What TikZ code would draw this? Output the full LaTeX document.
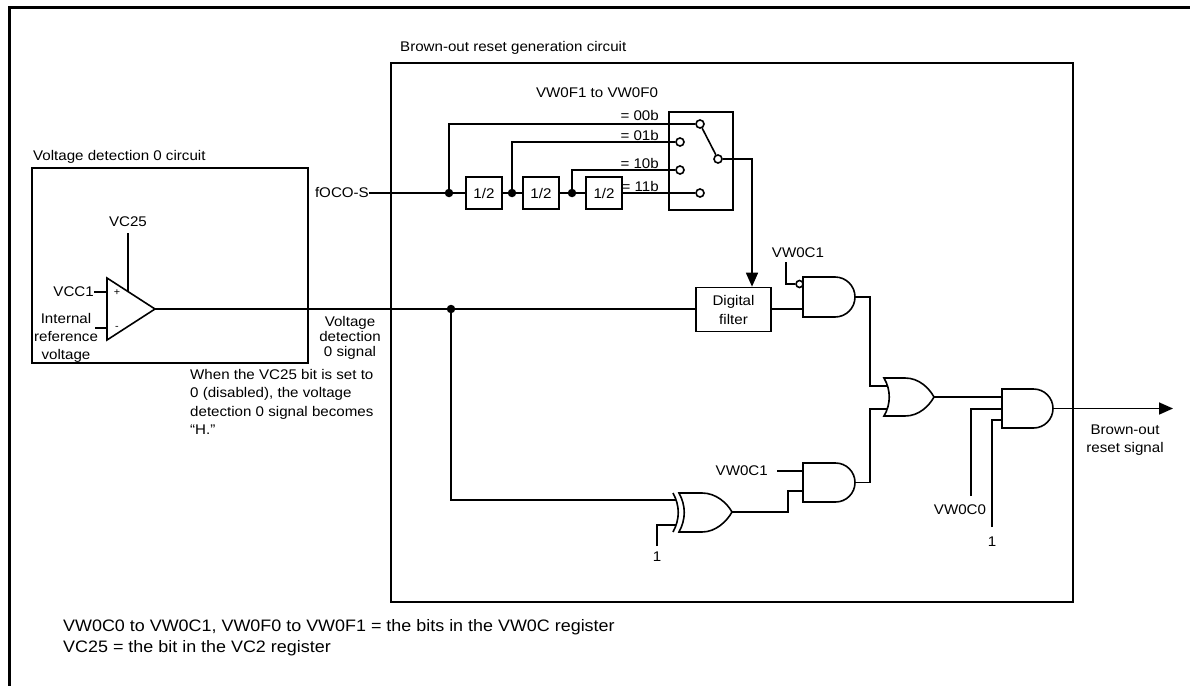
\documentclass[tikz,border=0pt]{standalone}
\usepackage{fontspec}
\setmainfont{Liberation Sans}[FakeStretch=1.08]
\usetikzlibrary{arrows.meta}
\newcommand\lblfont{\fontsize{14}{16}\selectfont}
\tikzset{
  wire/.style={line width=1.6pt},
  frame/.style={line width=1.6pt},
  box/.style={draw, line width=1.6pt, inner sep=0pt, font=\lblfont},
  lbl/.style={font=\lblfont, inner sep=0pt},
  dot/.style={circle, fill, inner sep=0pt, minimum size=8.5pt},
  contact/.style={circle, draw, fill=white, line width=1.6pt, inner sep=0pt, minimum size=8pt},
  gate/.style={line width=1.6pt, fill=white},
  sig/.style={-{Triangle[length=14pt,width=12pt]}},
}
\begin{document}
\begin{tikzpicture}[x=1pt,y=1pt]
\useasboundingbox (0,0) rectangle (1190,-685);
\fill[white] (0,0) rectangle (1190,-685);
\draw[line width=3pt] (1190,-8) -- (9,-8) -- (9,-686);

% ---------- Voltage detection 0 circuit ----------
\draw[frame] (32,-168) rectangle (308,-363);
\node[lbl, anchor=west] (vdtitle) at (33,-157) {Voltage detection 0 circuit};
\draw[gate] (107,-278) -- (155,-309) -- (107,-340) -- cycle;
\coordinate (opout) at (155,-309);
\coordinate (opp) at (107,-292);
\coordinate (opm) at (107,-328);
\coordinate (vcin) at (128,-291.6);
\node[font=\fontsize{10}{10}\selectfont, inner sep=0pt] (plus) at (117,-293) {+};
\node[font=\fontsize{10}{10}\selectfont, inner sep=0pt] (minus) at (117,-328) {-};
\node[lbl] (vc25) at (128,-222) {VC25};
\draw[wire] ([yshift=-6pt]vc25.south) -- (vcin);
\node[lbl, anchor=east] (vcc1) at (94,-292) {VCC1};
\draw[wire] (vcc1.east) -- (opp);
\node[lbl, align=center, font=\fontsize{14}{18}\selectfont] (iref) at (66,-338) {Internal\\reference\\voltage};
\coordinate (irefw) at (95,-328);
\draw[wire] (irefw) -- (opm);
\node[lbl, align=center, font=\fontsize{14}{15}\selectfont] (vdsig) at (350,-338) {Voltage\\detection\\0 signal};
\node[lbl, align=left, anchor=north west, font=\fontsize{14}{18.5}\selectfont] (note) at (190,-369)
  {When the VC25 bit is set to\\0 (disabled), the voltage\\detection 0 signal becomes\\“H.”};

% ---------- Brown-out reset generation circuit ----------
\draw[frame] (391,-63) rectangle (1073,-602);
\node[lbl, anchor=west] (bortitle) at (400,-48) {Brown-out reset generation circuit};

% divider chain
\node[lbl, anchor=east] (foco) at (369,-193) {fOCO-S};
\node[dot] (j1) at (449,-193) {};
\node[box, minimum width=36pt, minimum height=32pt] (d1) at (484,-193) {1/2};
\node[dot] (j2) at (512,-193) {};
\node[box, minimum width=36pt, minimum height=32pt] (d2) at (541,-193) {1/2};
\node[dot] (j3) at (572,-193) {};
\node[box, minimum width=36pt, minimum height=32pt] (d3) at (604,-193) {1/2};

% selector switch
\draw[frame] (669,-112) rectangle (733,-210);
\node[lbl] (vwf) at (597,-93) {VW0F1 to VW0F0};
\node[contact] (c1) at (700,-124) {};
\node[contact] (c2) at (680,-142) {};
\node[contact] (c3) at (680,-170) {};
\node[contact] (c4) at (700,-193) {};
\node[contact] (cp) at (718,-159) {};
\node[lbl, anchor=east] (l00) at (659,-115) {= 00b};
\node[lbl, anchor=east] (l01) at (659,-135) {= 01b};
\node[lbl, anchor=east] (l10) at (659,-163) {= 10b};
\node[lbl, anchor=east] (l11) at (659,-186) {= 11b};

\draw[wire] (foco.east) -- (j1.center) -- (d1.west);
\draw[wire] (d1.east) -- (j2.center) -- (d2.west);
\draw[wire] (d2.east) -- (j3.center) -- (d3.west);
\draw[wire] (d3.east) -- (c4);
\draw[wire] (j1.center) |- (c1);
\draw[wire] (j2.center) |- (c2);
\draw[wire] (j3.center) |- (c3);
\draw[wire] (c1) -- (cp);

% digital filter
\node[box, minimum width=75pt, minimum height=44pt, align=center, font=\fontsize{14}{19}\selectfont] (filt) at (733.5,-309.5) {Digital\\filter};
\coordinate (fx) at (752,-159);
\draw[wire, sig] (cp) -- (fx) -- (fx |- filt.north);

% voltage detection signal path
\node[dot] (jv) at (451,-309) {};
\draw[wire] (opout) -- (jv.center) -- (jv.center -| filt.west);

% AND1 (with inverted input)
\draw[gate] (803,-277) -- (835,-277) arc[start angle=90, end angle=-90, radius=20] -- (803,-317) -- cycle;
\coordinate (a1in2) at (803,-309);
\coordinate (a1out) at (855,-297);
\node[contact, minimum size=7pt] (bub) at (799.5,-284) {};
\node[lbl] (vw1a) at (798,-253) {VW0C1};
\coordinate (vw1s) at (786,-262);
\draw[wire] (vw1s) |- (bub);
\draw[wire] (filt.east |- a1in2) -- (a1in2);

% XOR gate
\draw[gate] (679,-493) -- (702,-493) .. controls (716,-493) and (727,-503) .. (732,-512)
  .. controls (727,-521) and (716,-532) .. (702,-532) -- (679,-532)
  .. controls (686,-519) and (686,-506) .. (679,-493) -- cycle;
\draw[wire] (673,-493) .. controls (680,-506) and (680,-519) .. (673,-532);
\coordinate (x1in1) at (676,-500);
\coordinate (x1in2) at (676,-525);
\coordinate (x1out) at (732,-512);
\node[lbl] (one1) at (657,-557) {1};
\coordinate (one1s) at (657,-546);
\draw[wire] (jv.center) |- (x1in1);
\draw[wire] (one1s) |- (x1in2);

% AND2
\draw[gate] (803,-463) -- (835.5,-463) arc[start angle=90, end angle=-90, radius=19.5] -- (803,-502) -- cycle;
\coordinate (a2in1) at (803,-471);
\coordinate (a2in2) at (803,-491);
\coordinate (a2out) at (855,-482.5);
\node[lbl, anchor=east] (vw1b) at (768,-471) {VW0C1};
\draw[wire] ([xshift=9pt]vw1b.east) -- (a2in1);
\coordinate (bx2) at (788,0);
\draw[wire] (x1out) -- (x1out -| bx2) -- (bx2 |- a2in2) -- (a2in2);

% OR gate
\draw[gate] (884,-378) -- (905,-378) .. controls (919,-378) and (929,-388) .. (934,-397)
  .. controls (929,-406) and (919,-416) .. (905,-416) -- (884,-416)
  .. controls (891,-404) and (891,-390) .. (884,-378) -- cycle;
\coordinate (o1in1) at (887,-386);
\coordinate (o1in2) at (887,-409);
\coordinate (o1out) at (934,-397);
\coordinate (bx1) at (870,0);
\draw[wire] (a1out) -- (a1out -| bx1) -- (bx1 |- o1in1) -- (o1in1);
\draw[wire] (a2out) -- (a2out -| bx1) -- (bx1 |- o1in2) -- (o1in2);

% AND3
\draw[gate] (1002,-389) -- (1033.5,-389) arc[start angle=90, end angle=-90, radius=19.5] -- (1002,-428) -- cycle;
\coordinate (a3in1) at (1002,-397);
\coordinate (a3in2) at (1002,-409);
\coordinate (a3in3) at (1002,-420);
\coordinate (a3out) at (1053,-408.5);
\draw[wire] (o1out) -- (a3in1);
\node[lbl] (vw0c0) at (960,-510) {VW0C0};
\coordinate (vw0s) at (971,-496);
\draw[wire] (vw0s) |- (a3in2);
\node[lbl] (one2) at (992,-542) {1};
\coordinate (one2s) at (992,-527);
\draw[wire] (one2s) |- (a3in3);
\coordinate (bout) at (1173,-408.5);
\draw[wire, sig] (a3out) -- (bout);
\node[lbl, align=center, font=\fontsize{14}{18}\selectfont] (borsig) at (1125,-440) {Brown-out\\reset signal};

% footnote
\node[anchor=west, inner sep=0pt, align=left, font=\fontsize{16.6}{21}\selectfont] (foot) at (63,-638)
  {VW0C0 to VW0C1, VW0F0 to VW0F1 = the bits in the VW0C register\\VC25 = the bit in the VC2 register};
\end{tikzpicture}
\end{document}
